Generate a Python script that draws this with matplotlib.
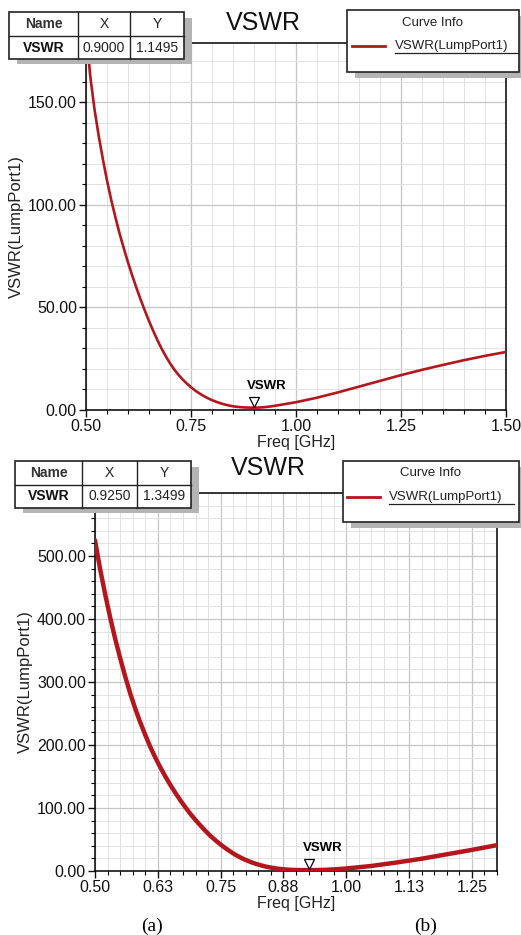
import matplotlib
matplotlib.use('Agg')
import matplotlib.pyplot as plt
from matplotlib.patches import Rectangle
from matplotlib.lines import Line2D
from matplotlib.transforms import offset_copy
from matplotlib.ticker import MultipleLocator, FixedLocator

plt.rcParams['font.family'] = ['Liberation Sans', 'DejaVu Sans']

# ---------------- data ----------------
freq_a = [0.50, 0.51, 0.52, 0.53, 0.54, 0.55, 0.56, 0.57, 0.58, 0.59,
          0.60, 0.61, 0.62, 0.63, 0.64, 0.65, 0.66, 0.67, 0.68, 0.69,
          0.70, 0.71, 0.72, 0.73, 0.74, 0.75, 0.76, 0.77, 0.78, 0.79,
          0.80, 0.81, 0.82, 0.83, 0.84, 0.85, 0.86, 0.87, 0.88, 0.89,
          0.90, 0.91, 0.92, 0.93, 0.94, 0.95, 0.96, 0.98, 1.00, 1.05,
          1.10, 1.15, 1.20, 1.25, 1.30, 1.35, 1.40, 1.45, 1.50]
vswr_a = [186, 163, 147, 134, 122.5, 112, 102.5, 94, 86, 78.8,
          72, 65.6, 59.6, 53.9, 48.5, 43.4, 38.6, 34.1, 29.9, 26.2,
          22.8, 19.8, 17.2, 14.9, 12.9, 11.1, 9.5, 8.1, 6.85, 5.75,
          4.8, 4.0, 3.3, 2.7, 2.2, 1.8, 1.55, 1.35, 1.22, 1.16,
          1.15, 1.18, 1.3, 1.5, 1.75, 2.05, 2.4, 3.1, 3.8, 6.0,
          8.6, 11.4, 14.2, 17.0, 19.6, 22.0, 24.3, 26.4, 28.3]

freq_b = [0.50, 0.51, 0.52, 0.53, 0.54, 0.55, 0.56, 0.57, 0.58, 0.59,
          0.60, 0.61, 0.62, 0.63, 0.64, 0.65, 0.66, 0.67, 0.68, 0.69,
          0.70, 0.71, 0.72, 0.73, 0.74, 0.75, 0.76, 0.77, 0.78, 0.79,
          0.80, 0.81, 0.82, 0.83, 0.84, 0.85, 0.86, 0.87, 0.88, 0.89,
          0.90, 0.91, 0.925, 0.94, 0.96, 0.98, 1.00, 1.05, 1.10, 1.15,
          1.20, 1.25, 1.30]
vswr_b = [525, 480, 440, 403, 369, 338, 309, 282, 258, 236,
          216, 197, 180, 164.5, 150, 136.5, 124, 112, 101, 90.5,
          81, 72, 63.5, 55.5, 48.5, 42, 36, 30.5, 25.5, 21.2,
          17.5, 14.2, 11.4, 9.0, 7.0, 5.4, 4.1, 3.1, 2.4, 1.9,
          1.6, 1.42, 1.35, 1.45, 1.9, 2.8, 4.0, 8.0, 13.5, 19.5,
          26.5, 33.5, 41]

marker_a = (0.9000, 1.1495)
marker_b = (0.9250, 1.3499)

xticks_a = [0.50, 0.75, 1.00, 1.25, 1.50]
xticklabels_a = ['0.50', '0.75', '1.00', '1.25', '1.50']
yticks_a = [0, 50, 100, 150]
yticklabels_a = ['0.00', '50.00', '100.00', '150.00']

xticks_b = [0.50, 0.625, 0.75, 0.875, 1.00, 1.125, 1.25]
xticklabels_b = ['0.50', '0.63', '0.75', '0.88', '1.00', '1.13', '1.25']
yticks_b = [0, 100, 200, 300, 400, 500]
yticklabels_b = ['0.00', '100.00', '200.00', '300.00', '400.00', '500.00']

title = 'VSWR'
xlabel = 'Freq [GHz]'
ylabel = 'VSWR(LumpPort1)'
curve_name = 'VSWR(LumpPort1)'
marker_name = 'VSWR'

# ---------------- figure ----------------
W, H = 521, 935
fig = plt.figure(figsize=(W / 100, H / 100), dpi=100)
fig.patch.set_facecolor('white')

def fx(x):
    return x / W

def fy(y):
    return 1 - y / H

CURVE = '#b3161c'


def setup_axes(rect_px, xlim, ylim, xticks, xtl, yticks, ytl, xminor, yminor, lw,
               freq, vswr, marker, tri_off, txt_off):
    l, t, r, b = rect_px
    ax = fig.add_axes([fx(l), fy(b), (r - l) / W, (b - t) / H])
    ax.set_xlim(*xlim)
    ax.set_ylim(*ylim)
    ax.xaxis.set_major_locator(FixedLocator(xticks))
    ax.set_xticklabels(xtl)
    ax.yaxis.set_major_locator(FixedLocator(yticks))
    ax.set_yticklabels(ytl)
    ax.xaxis.set_minor_locator(MultipleLocator(xminor))
    ax.yaxis.set_minor_locator(MultipleLocator(yminor))
    ax.set_axisbelow(True)
    ax.grid(which='major', color='#c6c6c6', lw=0.9)
    ax.grid(which='minor', color='#e2e2e2', lw=0.7)
    ax.tick_params(which='major', direction='out', length=5, width=1.0, pad=1.5,
                   labelsize=11.5, colors='#111111', top=False, right=False)
    ax.tick_params(which='minor', direction='out', length=3, width=0.8,
                   top=False, right=False)
    for s in ax.spines.values():
        s.set_color('black')
        s.set_linewidth(1.1)
    ax.set_xlabel(xlabel, fontsize=11.5, labelpad=1, color='#222222')
    ax.set_ylabel(ylabel, fontsize=12, labelpad=3, color='#222222')
    ax.plot(freq, vswr, color=CURVE, lw=lw, solid_capstyle='round',
            solid_joinstyle='round', zorder=3)
    tr = offset_copy(ax.transData, fig=fig, x=0, y=tri_off, units='points')
    ax.plot([marker[0]], [marker[1]], marker='v', ms=7, mfc='white', mec='black',
            mew=0.9, transform=tr, zorder=4, ls='none')
    ax.annotate(marker_name, xy=marker, xytext=txt_off, textcoords='offset points',
                ha='center', va='center', fontsize=9.5, fontweight='bold', zorder=5)
    return ax


ax_a = setup_axes((86, 43, 506, 410), (0.5, 1.5), (0, 179), xticks_a, xticklabels_a,
                  yticks_a, yticklabels_a, 0.05, 10, 1.9, freq_a, vswr_a, marker_a,
                  4.0, (9.5, 15.5))
ax_b = setup_axes((95, 493, 497, 871), (0.5, 1.3), (0, 600), xticks_b, xticklabels_b,
                  yticks_b, yticklabels_b, 0.025, 20, 3.2, freq_b, vswr_b, marker_b,
                  4.5, (10.5, 16))


def rect_px(x0, y0, x1, y1, **kw):
    r = Rectangle((fx(x0), fy(y1)), (x1 - x0) / W, (y1 - y0) / H,
                  transform=fig.transFigure, **kw)
    fig.add_artist(r)


def line_px(x0, y0, x1, y1, **kw):
    fig.add_artist(Line2D([fx(x0), fx(x1)], [fy(y0), fy(y1)],
                          transform=fig.transFigure, **kw))


def draw_table(cols, rows, xval, yval):
    x0, x1, x2, x3 = cols
    y0, y1, y2 = rows
    rect_px(x0 + 8, y0 + 6, x3 + 8, y2 + 5, facecolor='#b4b4b4', edgecolor='none', zorder=5)
    rect_px(x0, y0, x3, y2, facecolor='white', edgecolor='#222222', lw=1.2, zorder=6)
    for xv in (x1, x2):
        line_px(xv, y0, xv, y2, color='#222222', lw=1.0, zorder=7)
    line_px(x0, y1, x3, y1, color='#222222', lw=1.0, zorder=7)
    yc0 = (y0 + y1) / 2
    yc1 = (y1 + y2) / 2
    kw = dict(ha='center', va='center', fontsize=10, zorder=8)
    fig.text(fx((x0 + x1) / 2), fy(yc0), 'Name', fontweight='bold', color='#333333', **kw)
    fig.text(fx((x1 + x2) / 2), fy(yc0), 'X', color='#222222', **kw)
    fig.text(fx((x2 + x3) / 2), fy(yc0), 'Y', color='#222222', **kw)
    fig.text(fx((x0 + x1) / 2), fy(yc1), marker_name, fontweight='bold', color='#111111', **kw)
    fig.text(fx((x1 + x2) / 2), fy(yc1), '%.4f' % xval, color='#222222', **kw)
    fig.text(fx((x2 + x3) / 2), fy(yc1), '%.4f' % yval, color='#222222', **kw)


def draw_legend(box, header_y, entry_y, lx0, lx1, tx, tw):
    x0, y0, x1, y1 = box
    rect_px(x0 + 8, y0 + 6, x1 + 4, y1 + 6, facecolor='#b4b4b4', edgecolor='none', zorder=5)
    rect_px(x0, y0, x1, y1, facecolor='white', edgecolor='#222222', lw=1.2, zorder=6)
    fig.text(fx((x0 + x1) / 2), fy(header_y), 'Curve Info', ha='center', va='center',
             fontsize=9.5, color='#222222', zorder=8)
    line_px(lx0, entry_y, lx1, entry_y, color=CURVE, lw=2.0, zorder=8)
    fig.text(fx(tx), fy(entry_y), curve_name, ha='left', va='center', fontsize=9.5,
             color='#222222', zorder=8)
    line_px(tx, entry_y + 7, tx + tw, entry_y + 7, color='#222222', lw=0.9, zorder=8)


# top chart decorations
draw_table((9, 78, 130, 184), (12, 36, 59), marker_a[0], marker_a[1])
draw_legend((347, 10, 519, 72), 23, 46, 352, 385, 395, 123)
fig.text(fx(263), fy(23), title, ha='center', va='center', fontsize=18, color='#111111')

# bottom chart decorations
draw_table((15, 82, 137, 191), (461, 485, 508), marker_b[0], marker_b[1])
draw_legend((343, 461, 519, 522), 473, 497, 347, 380, 389, 125)
fig.text(fx(268), fy(468), title, ha='center', va='center', fontsize=18, color='#111111')

# captions
fig.text(fx(152), fy(926), '(a)', ha='center', va='center', fontsize=14,
         family=['Liberation Serif', 'DejaVu Serif'])
fig.text(fx(426), fy(926), '(b)', ha='center', va='center', fontsize=14,
         family=['Liberation Serif', 'DejaVu Serif'])

fig.savefig('out.png', dpi=100, facecolor='white')
